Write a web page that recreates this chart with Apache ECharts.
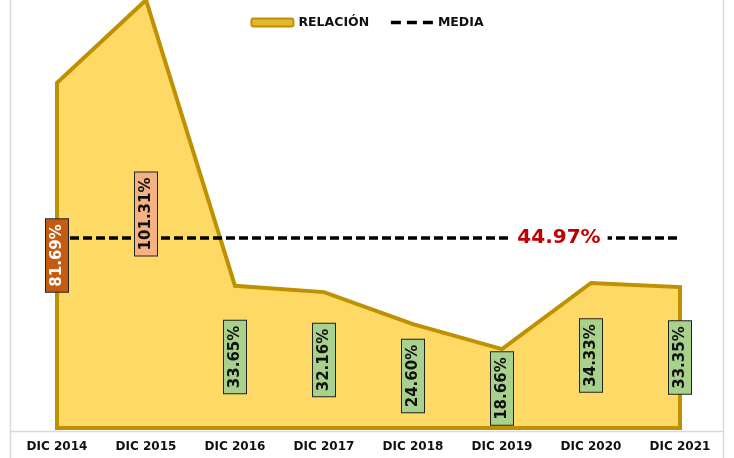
<!DOCTYPE html>
<html>
<head>
<meta charset="utf-8">
<script src="https://cdn.jsdelivr.net/npm/echarts@6/dist/echarts.min.js"></script>
<style>
  html, body { margin: 0; padding: 0; background: #ffffff; }
  #chart { width: 734px; height: 458px; }
</style>
</head>
<body>
<div id="chart"></div>
<script>
// Year-end ratio, December of each year (%)
const categories = ['DIC 2014', 'DIC 2015', 'DIC 2016', 'DIC 2017', 'DIC 2018', 'DIC 2019', 'DIC 2020', 'DIC 2021'];
const relacion = [81.69, 101.31, 33.65, 32.16, 24.60, 18.66, 34.33, 33.35];
const media = 44.97;
const mediaLabelIndex = 6;

const FONT = 'DejaVu Sans';
const GOLD = '#BF9000';
const FILL = '#FFD966';

// Label box colour per year: highest values stand out
function labelFill(i) {
  if (i === 0) return { bg: '#C55A11', fg: '#ffffff' };
  if (i === 1) return { bg: '#F4B183', fg: '#111111' };
  return { bg: '#A9D18E', fg: '#111111' };
}

const chart = echarts.init(document.getElementById('chart'));

const option = {
  backgroundColor: '#ffffff',
  animation: false,
  textStyle: { fontFamily: FONT },
  legend: {
    top: 11,
    left: 'center',
    itemGap: 20,
    itemWidth: 42,
    itemHeight: 8,
    textStyle: { fontFamily: FONT, fontWeight: 'bold', fontSize: 12.5, color: '#111111' },
    data: [
      { name: 'RELACIÓN', icon: 'roundRect', itemStyle: { color: '#E2B830', borderColor: GOLD, borderWidth: 2 } },
      { name: 'MEDIA', itemStyle: { opacity: 0 }, lineStyle: { color: '#000000', width: 3.5, type: [10, 6] } }
    ]
  },
  graphic: [
    { type: 'line', silent: true, shape: { x1: 10.5, y1: 0, x2: 10.5, y2: 458 }, style: { stroke: '#d9d9d9', lineWidth: 1.5 } },
    { type: 'line', silent: true, shape: { x1: 723.5, y1: 0, x2: 723.5, y2: 458 }, style: { stroke: '#d9d9d9', lineWidth: 1.5 } },
    { type: 'line', silent: true, shape: { x1: 11, y1: 431.5, x2: 723, y2: 431.5 }, style: { stroke: '#d9d9d9', lineWidth: 1.5 } }
  ],
  grid: { left: 57, right: 54, top: 0, height: 428, containLabel: false },
  xAxis: {
    type: 'category',
    data: categories,
    boundaryGap: false,
    axisLine: { show: false },
    axisTick: { show: false },
    axisLabel: { margin: 13, fontFamily: FONT, fontWeight: 'bold', fontSize: 12, color: '#111111' }
  },
  yAxis: {
    type: 'value',
    min: 0,
    max: 101.3,
    show: false,
    splitLine: { show: false }
  },
  series: [
    {
      name: 'RELACIÓN',
      type: 'custom',
      clip: false,
      z: 1,
      data: [0],
      renderItem: function (params, api) {
        const pts = [api.coord([0, 0])];
        relacion.forEach(function (v, i) { pts.push(api.coord([i, v])); });
        pts.push(api.coord([relacion.length - 1, 0]));
        return {
          type: 'polygon',
          shape: { points: pts },
          style: { fill: FILL, stroke: GOLD, lineWidth: 4, lineJoin: 'miter' }
        };
      }
    },
    {
      name: 'MEDIA',
      type: 'line',
      z: 3,
      symbol: 'circle',
      symbolSize: 0,
      showSymbol: true,
      lineStyle: { color: '#000000', width: 3.5, type: [9, 4] },
      itemStyle: { color: '#000000' },
      data: categories.map(function (c, i) {
        if (i !== mediaLabelIndex) return media;
        return {
          value: media,
          label: {
            show: true,
            position: 'inside',
            offset: [-32, 0],
            formatter: function () { return media.toFixed(2) + '%'; },
            fontFamily: FONT,
            fontWeight: 'bold',
            fontSize: 20,
            color: '#C00000',
            backgroundColor: '#ffffff',
            padding: [0, 7]
          }
        };
      })
    },
    {
      name: 'etiquetas',
      type: 'scatter',
      z: 5,
      symbolSize: 0,
      itemStyle: { opacity: 1 },
      data: relacion.map(function (v, i) {
        const c = labelFill(i);
        return {
          value: [i, v / 2],
          label: {
            show: true,
            position: 'inside',
            rotate: 90,
            opacity: 1,
            formatter: v.toFixed(2) + '%',
            fontFamily: FONT,
            fontWeight: 'bold',
            fontSize: 15,
            lineHeight: 16,
            color: c.fg,
            backgroundColor: c.bg,
            borderColor: '#222222',
            borderWidth: 1,
            padding: [3, 5]
          }
        };
      })
    }
  ]
};

chart.setOption(option);
</script>
</body>
</html>
